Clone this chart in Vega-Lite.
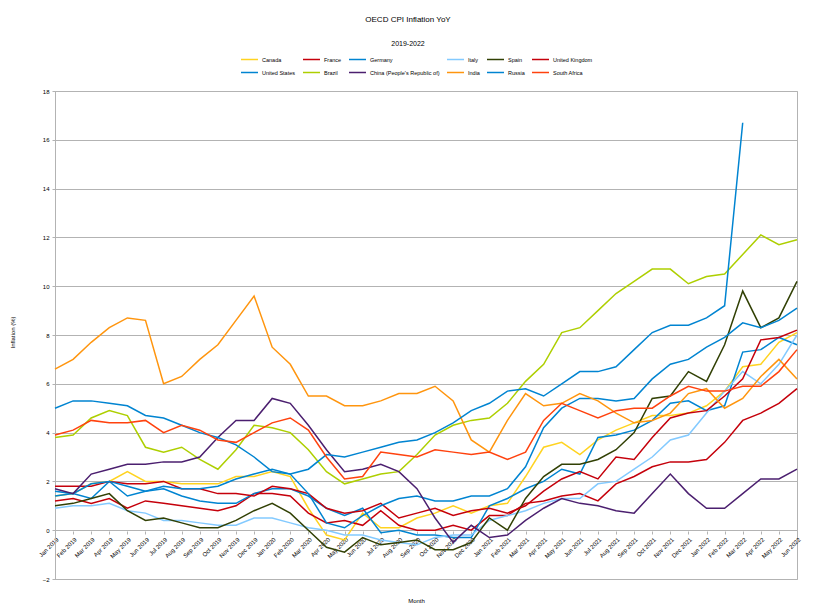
{
"$schema": "https://vega.github.io/schema/vega-lite/v6.json",
"width": 742, "height": 488,
"autosize": "none",
"padding": {"left": 55, "top": 91, "right": 19, "bottom": 33},
"background": "white",
"config": {"font": "Liberation Sans", "view": {"stroke": "#b3b3b3", "strokeWidth": 1}},
"title": {"text": "OECD CPI Inflation YoY", "subtitle": "2019-2022", "fontSize": 8, "fontWeight": "normal", "subtitleFontSize": 7, "subtitlePadding": 16, "offset": 3, "anchor": "middle", "dx": -18, "color": "black", "subtitleColor": "black"},
"data": {"values": [
{"month":"2019-01-01","country":"Canada","value":1.4},{"month":"2019-02-01","country":"Canada","value":1.5},{"month":"2019-03-01","country":"Canada","value":1.9},{"month":"2019-04-01","country":"Canada","value":2.0},{"month":"2019-05-01","country":"Canada","value":2.4},{"month":"2019-06-01","country":"Canada","value":2.0},{"month":"2019-07-01","country":"Canada","value":2.0},{"month":"2019-08-01","country":"Canada","value":1.9},{"month":"2019-09-01","country":"Canada","value":1.9},{"month":"2019-10-01","country":"Canada","value":1.9},{"month":"2019-11-01","country":"Canada","value":2.2},{"month":"2019-12-01","country":"Canada","value":2.2},
{"month":"2020-01-01","country":"Canada","value":2.4},{"month":"2020-02-01","country":"Canada","value":2.2},{"month":"2020-03-01","country":"Canada","value":0.9},{"month":"2020-04-01","country":"Canada","value":-0.2},{"month":"2020-05-01","country":"Canada","value":-0.4},{"month":"2020-06-01","country":"Canada","value":0.7},{"month":"2020-07-01","country":"Canada","value":0.1},{"month":"2020-08-01","country":"Canada","value":0.1},{"month":"2020-09-01","country":"Canada","value":0.5},{"month":"2020-10-01","country":"Canada","value":0.7},{"month":"2020-11-01","country":"Canada","value":1.0},{"month":"2020-12-01","country":"Canada","value":0.7},
{"month":"2021-01-01","country":"Canada","value":1.0},{"month":"2021-02-01","country":"Canada","value":1.1},{"month":"2021-03-01","country":"Canada","value":2.2},{"month":"2021-04-01","country":"Canada","value":3.4},{"month":"2021-05-01","country":"Canada","value":3.6},{"month":"2021-06-01","country":"Canada","value":3.1},{"month":"2021-07-01","country":"Canada","value":3.7},{"month":"2021-08-01","country":"Canada","value":4.1},{"month":"2021-09-01","country":"Canada","value":4.4},{"month":"2021-10-01","country":"Canada","value":4.7},{"month":"2021-11-01","country":"Canada","value":4.7},{"month":"2021-12-01","country":"Canada","value":4.8},
{"month":"2022-01-01","country":"Canada","value":5.1},{"month":"2022-02-01","country":"Canada","value":5.7},{"month":"2022-03-01","country":"Canada","value":6.7},{"month":"2022-04-01","country":"Canada","value":6.8},{"month":"2022-05-01","country":"Canada","value":7.7},{"month":"2022-06-01","country":"Canada","value":8.1},

{"month":"2019-01-01","country":"France","value":1.2},{"month":"2019-02-01","country":"France","value":1.3},{"month":"2019-03-01","country":"France","value":1.1},{"month":"2019-04-01","country":"France","value":1.3},{"month":"2019-05-01","country":"France","value":0.9},{"month":"2019-06-01","country":"France","value":1.2},{"month":"2019-07-01","country":"France","value":1.1},{"month":"2019-08-01","country":"France","value":1.0},{"month":"2019-09-01","country":"France","value":0.9},{"month":"2019-10-01","country":"France","value":0.8},{"month":"2019-11-01","country":"France","value":1.0},{"month":"2019-12-01","country":"France","value":1.5},
{"month":"2020-01-01","country":"France","value":1.5},{"month":"2020-02-01","country":"France","value":1.4},{"month":"2020-03-01","country":"France","value":0.7},{"month":"2020-04-01","country":"France","value":0.3},{"month":"2020-05-01","country":"France","value":0.4},{"month":"2020-06-01","country":"France","value":0.2},{"month":"2020-07-01","country":"France","value":0.8},{"month":"2020-08-01","country":"France","value":0.2},{"month":"2020-09-01","country":"France","value":0.0},{"month":"2020-10-01","country":"France","value":0.0},{"month":"2020-11-01","country":"France","value":0.2},{"month":"2020-12-01","country":"France","value":0.0},
{"month":"2021-01-01","country":"France","value":0.6},{"month":"2021-02-01","country":"France","value":0.6},{"month":"2021-03-01","country":"France","value":1.1},{"month":"2021-04-01","country":"France","value":1.2},{"month":"2021-05-01","country":"France","value":1.4},{"month":"2021-06-01","country":"France","value":1.5},{"month":"2021-07-01","country":"France","value":1.2},{"month":"2021-08-01","country":"France","value":1.9},{"month":"2021-09-01","country":"France","value":2.2},{"month":"2021-10-01","country":"France","value":2.6},{"month":"2021-11-01","country":"France","value":2.8},{"month":"2021-12-01","country":"France","value":2.8},
{"month":"2022-01-01","country":"France","value":2.9},{"month":"2022-02-01","country":"France","value":3.6},{"month":"2022-03-01","country":"France","value":4.5},{"month":"2022-04-01","country":"France","value":4.8},{"month":"2022-05-01","country":"France","value":5.2},{"month":"2022-06-01","country":"France","value":5.8},

{"month":"2019-01-01","country":"Germany","value":1.4},{"month":"2019-02-01","country":"Germany","value":1.5},{"month":"2019-03-01","country":"Germany","value":1.3},{"month":"2019-04-01","country":"Germany","value":2.0},{"month":"2019-05-01","country":"Germany","value":1.4},{"month":"2019-06-01","country":"Germany","value":1.6},{"month":"2019-07-01","country":"Germany","value":1.7},{"month":"2019-08-01","country":"Germany","value":1.4},{"month":"2019-09-01","country":"Germany","value":1.2},{"month":"2019-10-01","country":"Germany","value":1.1},{"month":"2019-11-01","country":"Germany","value":1.1},{"month":"2019-12-01","country":"Germany","value":1.5},
{"month":"2020-01-01","country":"Germany","value":1.7},{"month":"2020-02-01","country":"Germany","value":1.7},{"month":"2020-03-01","country":"Germany","value":1.4},{"month":"2020-04-01","country":"Germany","value":0.9},{"month":"2020-05-01","country":"Germany","value":0.6},{"month":"2020-06-01","country":"Germany","value":0.9},{"month":"2020-07-01","country":"Germany","value":-0.1},{"month":"2020-08-01","country":"Germany","value":0.0},{"month":"2020-09-01","country":"Germany","value":-0.2},{"month":"2020-10-01","country":"Germany","value":-0.2},{"month":"2020-11-01","country":"Germany","value":-0.3},{"month":"2020-12-01","country":"Germany","value":-0.3},
{"month":"2021-01-01","country":"Germany","value":1.0},{"month":"2021-02-01","country":"Germany","value":1.3},{"month":"2021-03-01","country":"Germany","value":1.7},{"month":"2021-04-01","country":"Germany","value":2.0},{"month":"2021-05-01","country":"Germany","value":2.5},{"month":"2021-06-01","country":"Germany","value":2.3},{"month":"2021-07-01","country":"Germany","value":3.8},{"month":"2021-08-01","country":"Germany","value":3.9},{"month":"2021-09-01","country":"Germany","value":4.1},{"month":"2021-10-01","country":"Germany","value":4.5},{"month":"2021-11-01","country":"Germany","value":5.2},{"month":"2021-12-01","country":"Germany","value":5.3},
{"month":"2022-01-01","country":"Germany","value":4.9},{"month":"2022-02-01","country":"Germany","value":5.1},{"month":"2022-03-01","country":"Germany","value":7.3},{"month":"2022-04-01","country":"Germany","value":7.4},{"month":"2022-05-01","country":"Germany","value":7.9},{"month":"2022-06-01","country":"Germany","value":7.6},

{"month":"2019-01-01","country":"Italy","value":0.9},{"month":"2019-02-01","country":"Italy","value":1.0},{"month":"2019-03-01","country":"Italy","value":1.0},{"month":"2019-04-01","country":"Italy","value":1.1},{"month":"2019-05-01","country":"Italy","value":0.8},{"month":"2019-06-01","country":"Italy","value":0.7},{"month":"2019-07-01","country":"Italy","value":0.4},{"month":"2019-08-01","country":"Italy","value":0.4},{"month":"2019-09-01","country":"Italy","value":0.3},{"month":"2019-10-01","country":"Italy","value":0.2},{"month":"2019-11-01","country":"Italy","value":0.2},{"month":"2019-12-01","country":"Italy","value":0.5},
{"month":"2020-01-01","country":"Italy","value":0.5},{"month":"2020-02-01","country":"Italy","value":0.3},{"month":"2020-03-01","country":"Italy","value":0.1},{"month":"2020-04-01","country":"Italy","value":0.0},{"month":"2020-05-01","country":"Italy","value":-0.2},{"month":"2020-06-01","country":"Italy","value":-0.2},{"month":"2020-07-01","country":"Italy","value":-0.4},{"month":"2020-08-01","country":"Italy","value":-0.5},{"month":"2020-09-01","country":"Italy","value":-0.6},{"month":"2020-10-01","country":"Italy","value":-0.3},{"month":"2020-11-01","country":"Italy","value":-0.2},{"month":"2020-12-01","country":"Italy","value":-0.2},
{"month":"2021-01-01","country":"Italy","value":0.4},{"month":"2021-02-01","country":"Italy","value":0.6},{"month":"2021-03-01","country":"Italy","value":0.8},{"month":"2021-04-01","country":"Italy","value":1.1},{"month":"2021-05-01","country":"Italy","value":1.3},{"month":"2021-06-01","country":"Italy","value":1.3},{"month":"2021-07-01","country":"Italy","value":1.9},{"month":"2021-08-01","country":"Italy","value":2.0},{"month":"2021-09-01","country":"Italy","value":2.5},{"month":"2021-10-01","country":"Italy","value":3.0},{"month":"2021-11-01","country":"Italy","value":3.7},{"month":"2021-12-01","country":"Italy","value":3.9},
{"month":"2022-01-01","country":"Italy","value":4.8},{"month":"2022-02-01","country":"Italy","value":5.7},{"month":"2022-03-01","country":"Italy","value":6.5},{"month":"2022-04-01","country":"Italy","value":6.0},{"month":"2022-05-01","country":"Italy","value":6.8},{"month":"2022-06-01","country":"Italy","value":8.0},

{"month":"2019-01-01","country":"Spain","value":1.0},{"month":"2019-02-01","country":"Spain","value":1.1},{"month":"2019-03-01","country":"Spain","value":1.3},{"month":"2019-04-01","country":"Spain","value":1.5},{"month":"2019-05-01","country":"Spain","value":0.8},{"month":"2019-06-01","country":"Spain","value":0.4},{"month":"2019-07-01","country":"Spain","value":0.5},{"month":"2019-08-01","country":"Spain","value":0.3},{"month":"2019-09-01","country":"Spain","value":0.1},{"month":"2019-10-01","country":"Spain","value":0.1},{"month":"2019-11-01","country":"Spain","value":0.4},{"month":"2019-12-01","country":"Spain","value":0.8},
{"month":"2020-01-01","country":"Spain","value":1.1},{"month":"2020-02-01","country":"Spain","value":0.7},{"month":"2020-03-01","country":"Spain","value":0.0},{"month":"2020-04-01","country":"Spain","value":-0.7},{"month":"2020-05-01","country":"Spain","value":-0.9},{"month":"2020-06-01","country":"Spain","value":-0.3},{"month":"2020-07-01","country":"Spain","value":-0.6},{"month":"2020-08-01","country":"Spain","value":-0.5},{"month":"2020-09-01","country":"Spain","value":-0.4},{"month":"2020-10-01","country":"Spain","value":-0.8},{"month":"2020-11-01","country":"Spain","value":-0.8},{"month":"2020-12-01","country":"Spain","value":-0.5},
{"month":"2021-01-01","country":"Spain","value":0.5},{"month":"2021-02-01","country":"Spain","value":0.0},{"month":"2021-03-01","country":"Spain","value":1.3},{"month":"2021-04-01","country":"Spain","value":2.2},{"month":"2021-05-01","country":"Spain","value":2.7},{"month":"2021-06-01","country":"Spain","value":2.7},{"month":"2021-07-01","country":"Spain","value":2.9},{"month":"2021-08-01","country":"Spain","value":3.3},{"month":"2021-09-01","country":"Spain","value":4.0},{"month":"2021-10-01","country":"Spain","value":5.4},{"month":"2021-11-01","country":"Spain","value":5.5},{"month":"2021-12-01","country":"Spain","value":6.5},
{"month":"2022-01-01","country":"Spain","value":6.1},{"month":"2022-02-01","country":"Spain","value":7.6},{"month":"2022-03-01","country":"Spain","value":9.8},{"month":"2022-04-01","country":"Spain","value":8.3},{"month":"2022-05-01","country":"Spain","value":8.7},{"month":"2022-06-01","country":"Spain","value":10.2},

{"month":"2019-01-01","country":"United Kingdom","value":1.8},{"month":"2019-02-01","country":"United Kingdom","value":1.8},{"month":"2019-03-01","country":"United Kingdom","value":1.8},{"month":"2019-04-01","country":"United Kingdom","value":2.0},{"month":"2019-05-01","country":"United Kingdom","value":1.9},{"month":"2019-06-01","country":"United Kingdom","value":1.9},{"month":"2019-07-01","country":"United Kingdom","value":2.0},{"month":"2019-08-01","country":"United Kingdom","value":1.7},{"month":"2019-09-01","country":"United Kingdom","value":1.7},{"month":"2019-10-01","country":"United Kingdom","value":1.5},{"month":"2019-11-01","country":"United Kingdom","value":1.5},{"month":"2019-12-01","country":"United Kingdom","value":1.4},
{"month":"2020-01-01","country":"United Kingdom","value":1.8},{"month":"2020-02-01","country":"United Kingdom","value":1.7},{"month":"2020-03-01","country":"United Kingdom","value":1.5},{"month":"2020-04-01","country":"United Kingdom","value":0.9},{"month":"2020-05-01","country":"United Kingdom","value":0.7},{"month":"2020-06-01","country":"United Kingdom","value":0.8},{"month":"2020-07-01","country":"United Kingdom","value":1.1},{"month":"2020-08-01","country":"United Kingdom","value":0.5},{"month":"2020-09-01","country":"United Kingdom","value":0.7},{"month":"2020-10-01","country":"United Kingdom","value":0.9},{"month":"2020-11-01","country":"United Kingdom","value":0.6},{"month":"2020-12-01","country":"United Kingdom","value":0.8},
{"month":"2021-01-01","country":"United Kingdom","value":0.9},{"month":"2021-02-01","country":"United Kingdom","value":0.7},{"month":"2021-03-01","country":"United Kingdom","value":1.0},{"month":"2021-04-01","country":"United Kingdom","value":1.6},{"month":"2021-05-01","country":"United Kingdom","value":2.1},{"month":"2021-06-01","country":"United Kingdom","value":2.4},{"month":"2021-07-01","country":"United Kingdom","value":2.1},{"month":"2021-08-01","country":"United Kingdom","value":3.0},{"month":"2021-09-01","country":"United Kingdom","value":2.9},{"month":"2021-10-01","country":"United Kingdom","value":3.8},{"month":"2021-11-01","country":"United Kingdom","value":4.6},{"month":"2021-12-01","country":"United Kingdom","value":4.8},
{"month":"2022-01-01","country":"United Kingdom","value":4.9},{"month":"2022-02-01","country":"United Kingdom","value":5.5},{"month":"2022-03-01","country":"United Kingdom","value":6.2},{"month":"2022-04-01","country":"United Kingdom","value":7.8},{"month":"2022-05-01","country":"United Kingdom","value":7.9},{"month":"2022-06-01","country":"United Kingdom","value":8.2},

{"month":"2019-01-01","country":"United States","value":1.6},{"month":"2019-02-01","country":"United States","value":1.5},{"month":"2019-03-01","country":"United States","value":1.9},{"month":"2019-04-01","country":"United States","value":2.0},{"month":"2019-05-01","country":"United States","value":1.8},{"month":"2019-06-01","country":"United States","value":1.6},{"month":"2019-07-01","country":"United States","value":1.8},{"month":"2019-08-01","country":"United States","value":1.7},{"month":"2019-09-01","country":"United States","value":1.7},{"month":"2019-10-01","country":"United States","value":1.8},{"month":"2019-11-01","country":"United States","value":2.1},{"month":"2019-12-01","country":"United States","value":2.3},
{"month":"2020-01-01","country":"United States","value":2.5},{"month":"2020-02-01","country":"United States","value":2.3},{"month":"2020-03-01","country":"United States","value":1.5},{"month":"2020-04-01","country":"United States","value":0.3},{"month":"2020-05-01","country":"United States","value":0.1},{"month":"2020-06-01","country":"United States","value":0.6},{"month":"2020-07-01","country":"United States","value":1.0},{"month":"2020-08-01","country":"United States","value":1.3},{"month":"2020-09-01","country":"United States","value":1.4},{"month":"2020-10-01","country":"United States","value":1.2},{"month":"2020-11-01","country":"United States","value":1.2},{"month":"2020-12-01","country":"United States","value":1.4},
{"month":"2021-01-01","country":"United States","value":1.4},{"month":"2021-02-01","country":"United States","value":1.7},{"month":"2021-03-01","country":"United States","value":2.6},{"month":"2021-04-01","country":"United States","value":4.2},{"month":"2021-05-01","country":"United States","value":5.0},{"month":"2021-06-01","country":"United States","value":5.4},{"month":"2021-07-01","country":"United States","value":5.4},{"month":"2021-08-01","country":"United States","value":5.3},{"month":"2021-09-01","country":"United States","value":5.4},{"month":"2021-10-01","country":"United States","value":6.2},{"month":"2021-11-01","country":"United States","value":6.8},{"month":"2021-12-01","country":"United States","value":7.0},
{"month":"2022-01-01","country":"United States","value":7.5},{"month":"2022-02-01","country":"United States","value":7.9},{"month":"2022-03-01","country":"United States","value":8.5},{"month":"2022-04-01","country":"United States","value":8.3},{"month":"2022-05-01","country":"United States","value":8.6},{"month":"2022-06-01","country":"United States","value":9.1},

{"month":"2019-01-01","country":"Brazil","value":3.8},{"month":"2019-02-01","country":"Brazil","value":3.9},{"month":"2019-03-01","country":"Brazil","value":4.6},{"month":"2019-04-01","country":"Brazil","value":4.9},{"month":"2019-05-01","country":"Brazil","value":4.7},{"month":"2019-06-01","country":"Brazil","value":3.4},{"month":"2019-07-01","country":"Brazil","value":3.2},{"month":"2019-08-01","country":"Brazil","value":3.4},{"month":"2019-09-01","country":"Brazil","value":2.9},{"month":"2019-10-01","country":"Brazil","value":2.5},{"month":"2019-11-01","country":"Brazil","value":3.3},{"month":"2019-12-01","country":"Brazil","value":4.3},
{"month":"2020-01-01","country":"Brazil","value":4.2},{"month":"2020-02-01","country":"Brazil","value":4.0},{"month":"2020-03-01","country":"Brazil","value":3.3},{"month":"2020-04-01","country":"Brazil","value":2.4},{"month":"2020-05-01","country":"Brazil","value":1.9},{"month":"2020-06-01","country":"Brazil","value":2.1},{"month":"2020-07-01","country":"Brazil","value":2.3},{"month":"2020-08-01","country":"Brazil","value":2.4},{"month":"2020-09-01","country":"Brazil","value":3.1},{"month":"2020-10-01","country":"Brazil","value":3.9},{"month":"2020-11-01","country":"Brazil","value":4.3},{"month":"2020-12-01","country":"Brazil","value":4.5},
{"month":"2021-01-01","country":"Brazil","value":4.6},{"month":"2021-02-01","country":"Brazil","value":5.2},{"month":"2021-03-01","country":"Brazil","value":6.1},{"month":"2021-04-01","country":"Brazil","value":6.8},{"month":"2021-05-01","country":"Brazil","value":8.1},{"month":"2021-06-01","country":"Brazil","value":8.3},{"month":"2021-07-01","country":"Brazil","value":9.0},{"month":"2021-08-01","country":"Brazil","value":9.7},{"month":"2021-09-01","country":"Brazil","value":10.2},{"month":"2021-10-01","country":"Brazil","value":10.7},{"month":"2021-11-01","country":"Brazil","value":10.7},{"month":"2021-12-01","country":"Brazil","value":10.1},
{"month":"2022-01-01","country":"Brazil","value":10.4},{"month":"2022-02-01","country":"Brazil","value":10.5},{"month":"2022-03-01","country":"Brazil","value":11.3},{"month":"2022-04-01","country":"Brazil","value":12.1},{"month":"2022-05-01","country":"Brazil","value":11.7},{"month":"2022-06-01","country":"Brazil","value":11.9},

{"month":"2019-01-01","country":"China (People's Republic of)","value":1.7},{"month":"2019-02-01","country":"China (People's Republic of)","value":1.5},{"month":"2019-03-01","country":"China (People's Republic of)","value":2.3},{"month":"2019-04-01","country":"China (People's Republic of)","value":2.5},{"month":"2019-05-01","country":"China (People's Republic of)","value":2.7},{"month":"2019-06-01","country":"China (People's Republic of)","value":2.7},{"month":"2019-07-01","country":"China (People's Republic of)","value":2.8},{"month":"2019-08-01","country":"China (People's Republic of)","value":2.8},{"month":"2019-09-01","country":"China (People's Republic of)","value":3.0},{"month":"2019-10-01","country":"China (People's Republic of)","value":3.8},{"month":"2019-11-01","country":"China (People's Republic of)","value":4.5},{"month":"2019-12-01","country":"China (People's Republic of)","value":4.5},
{"month":"2020-01-01","country":"China (People's Republic of)","value":5.4},{"month":"2020-02-01","country":"China (People's Republic of)","value":5.2},{"month":"2020-03-01","country":"China (People's Republic of)","value":4.3},{"month":"2020-04-01","country":"China (People's Republic of)","value":3.3},{"month":"2020-05-01","country":"China (People's Republic of)","value":2.4},{"month":"2020-06-01","country":"China (People's Republic of)","value":2.5},{"month":"2020-07-01","country":"China (People's Republic of)","value":2.7},{"month":"2020-08-01","country":"China (People's Republic of)","value":2.4},{"month":"2020-09-01","country":"China (People's Republic of)","value":1.7},{"month":"2020-10-01","country":"China (People's Republic of)","value":0.5},{"month":"2020-11-01","country":"China (People's Republic of)","value":-0.5},{"month":"2020-12-01","country":"China (People's Republic of)","value":0.2},
{"month":"2021-01-01","country":"China (People's Republic of)","value":-0.3},{"month":"2021-02-01","country":"China (People's Republic of)","value":-0.2},{"month":"2021-03-01","country":"China (People's Republic of)","value":0.4},{"month":"2021-04-01","country":"China (People's Republic of)","value":0.9},{"month":"2021-05-01","country":"China (People's Republic of)","value":1.3},{"month":"2021-06-01","country":"China (People's Republic of)","value":1.1},{"month":"2021-07-01","country":"China (People's Republic of)","value":1.0},{"month":"2021-08-01","country":"China (People's Republic of)","value":0.8},{"month":"2021-09-01","country":"China (People's Republic of)","value":0.7},{"month":"2021-10-01","country":"China (People's Republic of)","value":1.5},{"month":"2021-11-01","country":"China (People's Republic of)","value":2.3},{"month":"2021-12-01","country":"China (People's Republic of)","value":1.5},
{"month":"2022-01-01","country":"China (People's Republic of)","value":0.9},{"month":"2022-02-01","country":"China (People's Republic of)","value":0.9},{"month":"2022-03-01","country":"China (People's Republic of)","value":1.5},{"month":"2022-04-01","country":"China (People's Republic of)","value":2.1},{"month":"2022-05-01","country":"China (People's Republic of)","value":2.1},{"month":"2022-06-01","country":"China (People's Republic of)","value":2.5},

{"month":"2019-01-01","country":"India","value":6.6},{"month":"2019-02-01","country":"India","value":7.0},{"month":"2019-03-01","country":"India","value":7.7},{"month":"2019-04-01","country":"India","value":8.3},{"month":"2019-05-01","country":"India","value":8.7},{"month":"2019-06-01","country":"India","value":8.6},{"month":"2019-07-01","country":"India","value":6.0},{"month":"2019-08-01","country":"India","value":6.3},{"month":"2019-09-01","country":"India","value":7.0},{"month":"2019-10-01","country":"India","value":7.6},{"month":"2019-11-01","country":"India","value":8.6},{"month":"2019-12-01","country":"India","value":9.6},
{"month":"2020-01-01","country":"India","value":7.5},{"month":"2020-02-01","country":"India","value":6.8},{"month":"2020-03-01","country":"India","value":5.5},{"month":"2020-04-01","country":"India","value":5.5},{"month":"2020-05-01","country":"India","value":5.1},{"month":"2020-06-01","country":"India","value":5.1},{"month":"2020-07-01","country":"India","value":5.3},{"month":"2020-08-01","country":"India","value":5.6},{"month":"2020-09-01","country":"India","value":5.6},{"month":"2020-10-01","country":"India","value":5.9},{"month":"2020-11-01","country":"India","value":5.3},{"month":"2020-12-01","country":"India","value":3.7},
{"month":"2021-01-01","country":"India","value":3.2},{"month":"2021-02-01","country":"India","value":4.5},{"month":"2021-03-01","country":"India","value":5.6},{"month":"2021-04-01","country":"India","value":5.1},{"month":"2021-05-01","country":"India","value":5.2},{"month":"2021-06-01","country":"India","value":5.6},{"month":"2021-07-01","country":"India","value":5.3},{"month":"2021-08-01","country":"India","value":4.8},{"month":"2021-09-01","country":"India","value":4.4},{"month":"2021-10-01","country":"India","value":4.5},{"month":"2021-11-01","country":"India","value":4.8},{"month":"2021-12-01","country":"India","value":5.6},
{"month":"2022-01-01","country":"India","value":5.8},{"month":"2022-02-01","country":"India","value":5.0},{"month":"2022-03-01","country":"India","value":5.4},{"month":"2022-04-01","country":"India","value":6.3},{"month":"2022-05-01","country":"India","value":7.0},{"month":"2022-06-01","country":"India","value":6.2},

{"month":"2019-01-01","country":"Russia","value":5.0},{"month":"2019-02-01","country":"Russia","value":5.3},{"month":"2019-03-01","country":"Russia","value":5.3},{"month":"2019-04-01","country":"Russia","value":5.2},{"month":"2019-05-01","country":"Russia","value":5.1},{"month":"2019-06-01","country":"Russia","value":4.7},{"month":"2019-07-01","country":"Russia","value":4.6},{"month":"2019-08-01","country":"Russia","value":4.3},{"month":"2019-09-01","country":"Russia","value":4.0},{"month":"2019-10-01","country":"Russia","value":3.8},{"month":"2019-11-01","country":"Russia","value":3.5},{"month":"2019-12-01","country":"Russia","value":3.0},
{"month":"2020-01-01","country":"Russia","value":2.4},{"month":"2020-02-01","country":"Russia","value":2.3},{"month":"2020-03-01","country":"Russia","value":2.5},{"month":"2020-04-01","country":"Russia","value":3.1},{"month":"2020-05-01","country":"Russia","value":3.0},{"month":"2020-06-01","country":"Russia","value":3.2},{"month":"2020-07-01","country":"Russia","value":3.4},{"month":"2020-08-01","country":"Russia","value":3.6},{"month":"2020-09-01","country":"Russia","value":3.7},{"month":"2020-10-01","country":"Russia","value":4.0},{"month":"2020-11-01","country":"Russia","value":4.4},{"month":"2020-12-01","country":"Russia","value":4.9},
{"month":"2021-01-01","country":"Russia","value":5.2},{"month":"2021-02-01","country":"Russia","value":5.7},{"month":"2021-03-01","country":"Russia","value":5.8},{"month":"2021-04-01","country":"Russia","value":5.5},{"month":"2021-05-01","country":"Russia","value":6.0},{"month":"2021-06-01","country":"Russia","value":6.5},{"month":"2021-07-01","country":"Russia","value":6.5},{"month":"2021-08-01","country":"Russia","value":6.7},{"month":"2021-09-01","country":"Russia","value":7.4},{"month":"2021-10-01","country":"Russia","value":8.1},{"month":"2021-11-01","country":"Russia","value":8.4},{"month":"2021-12-01","country":"Russia","value":8.4},
{"month":"2022-01-01","country":"Russia","value":8.7},{"month":"2022-02-01","country":"Russia","value":9.2},{"month":"2022-03-01","country":"Russia","value":16.7},

{"month":"2019-01-01","country":"South Africa","value":3.9},{"month":"2019-02-01","country":"South Africa","value":4.1},{"month":"2019-03-01","country":"South Africa","value":4.5},{"month":"2019-04-01","country":"South Africa","value":4.4},{"month":"2019-05-01","country":"South Africa","value":4.4},{"month":"2019-06-01","country":"South Africa","value":4.5},{"month":"2019-07-01","country":"South Africa","value":4.0},{"month":"2019-08-01","country":"South Africa","value":4.3},{"month":"2019-09-01","country":"South Africa","value":4.1},{"month":"2019-10-01","country":"South Africa","value":3.7},{"month":"2019-11-01","country":"South Africa","value":3.6},{"month":"2019-12-01","country":"South Africa","value":4.0},
{"month":"2020-01-01","country":"South Africa","value":4.4},{"month":"2020-02-01","country":"South Africa","value":4.6},{"month":"2020-03-01","country":"South Africa","value":4.1},{"month":"2020-04-01","country":"South Africa","value":3.0},{"month":"2020-05-01","country":"South Africa","value":2.1},{"month":"2020-06-01","country":"South Africa","value":2.2},{"month":"2020-07-01","country":"South Africa","value":3.2},{"month":"2020-08-01","country":"South Africa","value":3.1},{"month":"2020-09-01","country":"South Africa","value":3.0},{"month":"2020-10-01","country":"South Africa","value":3.3},{"month":"2020-11-01","country":"South Africa","value":3.2},{"month":"2020-12-01","country":"South Africa","value":3.1},
{"month":"2021-01-01","country":"South Africa","value":3.2},{"month":"2021-02-01","country":"South Africa","value":2.9},{"month":"2021-03-01","country":"South Africa","value":3.2},{"month":"2021-04-01","country":"South Africa","value":4.5},{"month":"2021-05-01","country":"South Africa","value":5.2},{"month":"2021-06-01","country":"South Africa","value":4.9},{"month":"2021-07-01","country":"South Africa","value":4.6},{"month":"2021-08-01","country":"South Africa","value":4.9},{"month":"2021-09-01","country":"South Africa","value":5.0},{"month":"2021-10-01","country":"South Africa","value":5.0},{"month":"2021-11-01","country":"South Africa","value":5.5},{"month":"2021-12-01","country":"South Africa","value":5.9},
{"month":"2022-01-01","country":"South Africa","value":5.7},{"month":"2022-02-01","country":"South Africa","value":5.7},{"month":"2022-03-01","country":"South Africa","value":5.9},{"month":"2022-04-01","country":"South Africa","value":5.9},{"month":"2022-05-01","country":"South Africa","value":6.5},{"month":"2022-06-01","country":"South Africa","value":7.4}
]},
"mark": {"type": "line", "strokeWidth": 1.5},
"encoding": {
  "x": {"field": "month", "type": "ordinal", "timeUnit": "utcyearmonth",
    "scale": {"type": "point", "padding": 0},
    "axis": {"title": "Month", "format": "%b %Y", "labelAngle": -45, "labelFontSize": 6, "labelColor": "black", "labelPadding": 2, "labelOverlap": false,
      "offset": -48, "domain": false, "ticks": true, "tickSize": 3, "tickColor": "#b3b3b3", "grid": false,
      "titleFontSize": 6, "titleFontWeight": "normal", "titleColor": "black", "titleX": 361, "titleY": 69, "titleAlign": "center", "titleBaseline": "middle"}},
  "y": {"field": "value", "type": "quantitative",
    "scale": {"domain": [-2, 18], "nice": false, "zero": false},
    "axis": {"title": "Inflation (%)", "values": [-2, 0, 2, 4, 6, 8, 10, 12, 14, 16, 18], "labelFontSize": 6, "labelColor": "black", "labelPadding": 3,
      "tickSize": 3, "tickColor": "#b3b3b3", "domainColor": "#b3b3b3", "gridColor": "#b3b3b3",
      "titleFontSize": 6, "titleFontWeight": "normal", "titleColor": "black", "titleX": -43, "titleY": 241, "titleAlign": "center", "titleBaseline": "middle"}},
  "color": {"field": "country", "type": "nominal",
    "scale": {"domain": ["Canada", "France", "Germany", "Italy", "Spain", "United Kingdom", "United States", "Brazil", "China (People's Republic of)", "India", "Russia", "South Africa"],
      "range": ["#ffd320", "#c5000b", "#0084d1", "#83caff", "#314004", "#c5000b", "#0084d1", "#aecf00", "#4b1f6f", "#ff950e", "#0084d1", "#ff420e"]},
    "legend": {"orient": "none", "legendX": 185, "legendY": -41, "direction": "horizontal", "columns": 6, "title": null,
      "symbolType": "stroke", "symbolSize": 289, "symbolStrokeWidth": 1.5, "labelFontSize": 5.5, "labelColor": "black", "labelOffset": 3, "columnPadding": 4, "rowPadding": -8}}
}
}
